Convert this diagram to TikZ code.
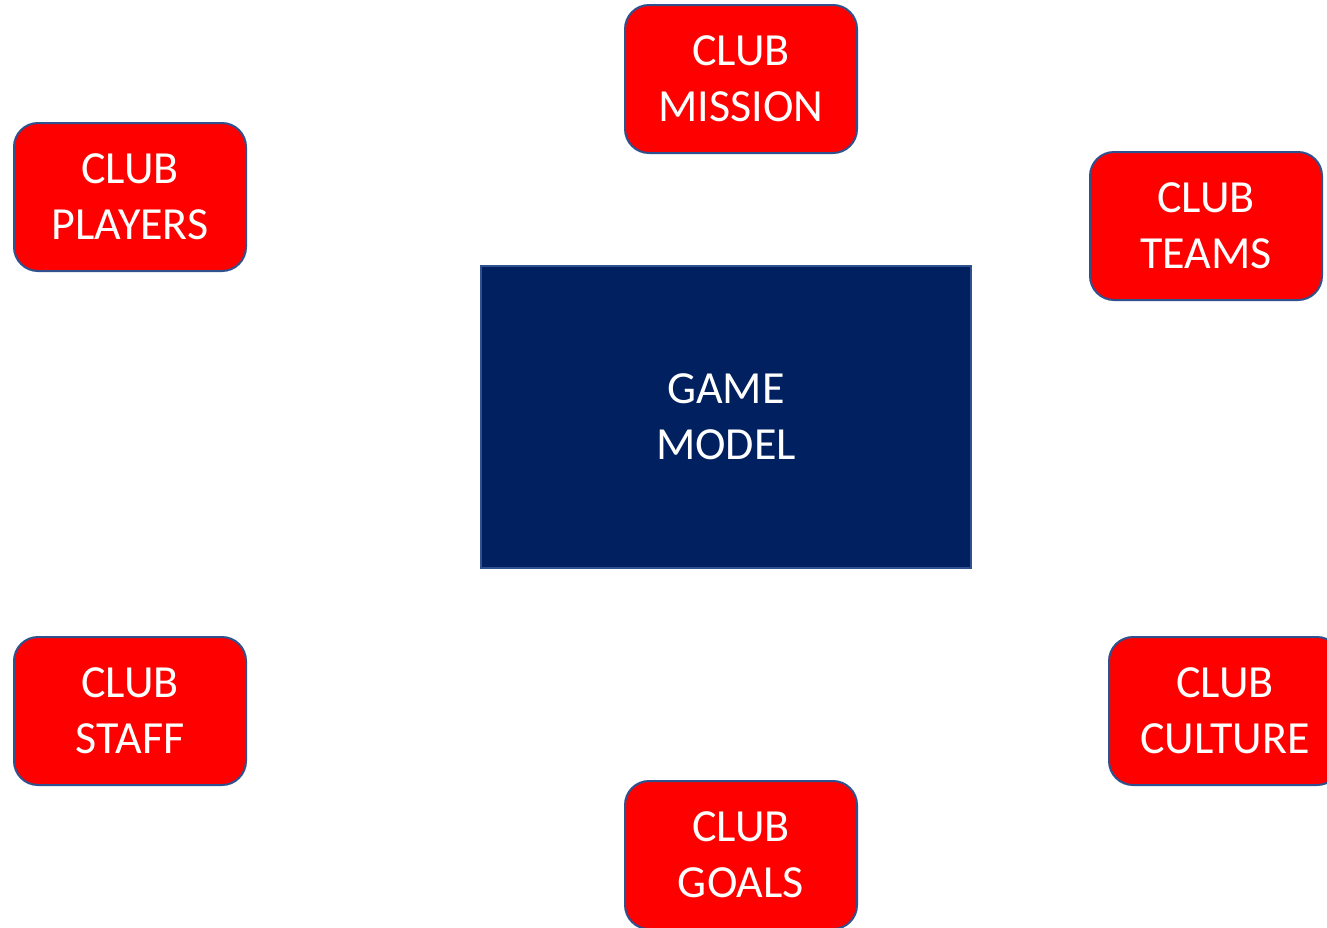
\documentclass[tikz,border=0pt]{standalone}
\usepackage{fontspec}
\setmainfont{Carlito}
\definecolor{boxred}{HTML}{FF0000}
\definecolor{boxline}{HTML}{2F528F}
\definecolor{navy}{HTML}{002060}
\tikzset{
  clubbox/.style={draw=boxline, line width=2pt, fill=boxred, rounded corners=24pt,
    minimum width=232pt, minimum height=148pt, inner sep=0pt, align=center,
    text=white, font=\fontsize{46}{56}\selectfont},
  centerbox/.style={draw=boxline, line width=2pt, fill=navy,
    minimum width=490pt, minimum height=302pt, inner sep=0pt, align=center,
    text=white, font=\fontsize{46}{56}\selectfont}
}
\begin{document}
\begin{tikzpicture}[x=1pt,y=-1pt]
\useasboundingbox (0,0) rectangle (1327,927);
\clip (0,0) rectangle (1327,927);
\fill[white] (0,0) rectangle (1327,927);
\node[centerbox] (model) at (726,417) {GAME\\MODEL};
\node[clubbox] (mission) at (741,79) {CLUB\\MISSION};
\node[clubbox] (players) at (130,197) {CLUB\\PLAYERS};
\node[clubbox] (teams) at (1206,226) {CLUB\\TEAMS};
\node[clubbox] (staff) at (130,711) {CLUB\\STAFF};
\node[clubbox] (culture) at (1225,711) {CLUB\\CULTURE};
\node[clubbox] (goals) at (741,855) {CLUB\\GOALS};
\end{tikzpicture}
\end{document}
